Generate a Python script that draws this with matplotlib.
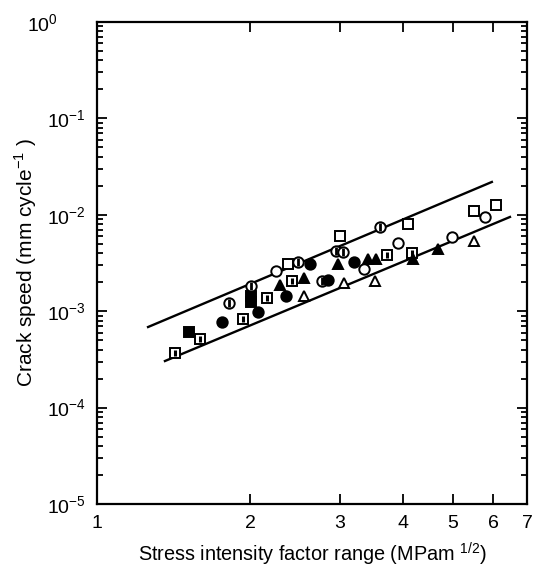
import math
import matplotlib
matplotlib.use("Agg")
import matplotlib.pyplot as plt
import matplotlib.transforms as mtransforms
from matplotlib.ticker import FixedLocator, NullLocator, LogLocator, FuncFormatter

plt.rcParams['font.family'] = ['Liberation Sans', 'DejaVu Sans']
plt.rcParams['mathtext.fontset'] = 'custom'
plt.rcParams['mathtext.rm'] = 'Liberation Sans'

# fitted bounds (two straight lines)
upper_x = [1.26, 5.97]
upper_y = [6.85e-4, 2.19e-2]
lower_x = [1.36, 6.48]
lower_y = [3.04e-4, 9.49e-3]

# data points by marker type
open_sq_x = [2.369, 3.008, 4.077, 5.495, 6.091]
open_sq_y = [3.09e-3, 6.02e-3, 8.03e-3, 1.09e-2, 1.26e-2]

bar_sq_x = [1.422, 1.594, 1.938, 2.160, 2.421, 3.717, 4.166]
bar_sq_y = [3.68e-4, 5.15e-4, 8.3e-4, 1.37e-3, 2.06e-3, 3.83e-3, 4.02e-3]

fill_sq_x = [1.518, 2.012, 2.012]
fill_sq_y = [6.1e-4, 1.44e-3, 1.25e-3]

open_ci_x = [2.243, 3.352, 3.903, 4.983, 5.800]
open_ci_y = [2.61e-3, 2.74e-3, 5.10e-3, 5.89e-3, 9.49e-3]

bar_ci_x = [1.815, 2.012, 2.487, 2.773, 2.943, 3.041, 3.597]
bar_ci_y = [1.22e-3, 1.83e-3, 3.24e-3, 2.06e-3, 4.21e-3, 4.11e-3, 7.47e-3]

fill_ci_x = [1.757, 2.068, 2.356, 2.626, 2.849, 3.193]
fill_ci_y = [7.7e-4, 9.8e-4, 1.44e-3, 3.09e-3, 2.11e-3, 3.24e-3]

fill_tri_x = [2.293, 2.555, 2.975, 3.407, 3.539, 4.188, 4.669]
fill_tri_y = [1.87e-3, 2.21e-3, 3.09e-3, 3.48e-3, 3.48e-3, 3.48e-3, 4.42e-3]

open_tri_x = [2.555, 3.057, 3.520, 5.495]
open_tri_y = [1.44e-3, 1.96e-3, 2.06e-3, 5.35e-3]

x_ticks = [1, 2, 3, 4, 5, 6, 7]

fig = plt.figure(figsize=(5.6, 5.74), dpi=100)
ax = fig.add_axes([0.1732, 0.1220, 0.7679, 0.8397])
ax.set_xscale('log')
ax.set_yscale('log')
ax.set_xlim(1, 7)
ax.set_ylim(1e-5, 1)

ax.plot(upper_x, upper_y, color='black', lw=1.7)
ax.plot(lower_x, lower_y, color='black', lw=1.7)

ms = 7.5
kw = dict(linestyle='none', color='black', markersize=ms, markeredgewidth=1.4)
ax.plot(open_sq_x, open_sq_y, marker='s', markerfacecolor='white', **kw)
ax.plot(bar_sq_x, bar_sq_y, marker='s', markerfacecolor='white', **kw)
ax.plot(bar_sq_x, bar_sq_y, marker='|', linestyle='none', color='black', markersize=5, markeredgewidth=2.2)
ax.plot(fill_sq_x, fill_sq_y, marker='s', **kw)
ax.plot(open_ci_x, open_ci_y, marker='o', markerfacecolor='white', **kw)
ax.plot(bar_ci_x, bar_ci_y, marker='o', markerfacecolor='white', **kw)
ax.plot(bar_ci_x, bar_ci_y, marker='|', linestyle='none', color='black', markersize=6, markeredgewidth=2)
ax.plot(fill_ci_x, fill_ci_y, marker='o', **kw)
ax.plot(fill_tri_x, fill_tri_y, marker='^', **kw)
ax.plot(open_tri_x, open_tri_y, marker='^', markerfacecolor='white', **kw)

ax.xaxis.set_major_locator(FixedLocator(x_ticks))
ax.xaxis.set_minor_locator(NullLocator())
ax.xaxis.set_major_formatter(FuncFormatter(lambda v, p: '%d' % round(v)))
ax.yaxis.set_major_locator(LogLocator(base=10, numticks=10))
ax.yaxis.set_minor_locator(LogLocator(base=10, subs=range(2, 10), numticks=10))
ax.yaxis.set_major_formatter(FuncFormatter(
    lambda v, p: r'$\mathregular{10^{%d}}$' % round(math.log10(v))))

ax.tick_params(which='both', direction='in', top=True, right=True, width=1.3, labelsize=14)
ax.tick_params(which='major', length=7, pad=8)
ax.tick_params(which='minor', length=4)
for s in ax.spines.values():
    s.set_linewidth(1.6)

ax.set_xlabel(r'Stress intensity factor range (MPam $^{1/2}$)', fontsize=14.3, labelpad=6)
ax.set_ylabel(r'Crack speed (mm cycle$^{-1}$ )', fontsize=15)
ax.yaxis.set_label_coords(-0.135, 0.5)

# the 10^0 label sits further left in the original
fig.canvas.draw()
for lab in ax.get_yticklabels():
    if lab.get_text() == r'$\mathregular{10^{0}}$':
        lab.set_transform(lab.get_transform() + mtransforms.ScaledTranslation(-0.28, 0, fig.dpi_scale_trans))

fig.savefig('out.png', dpi=100)
